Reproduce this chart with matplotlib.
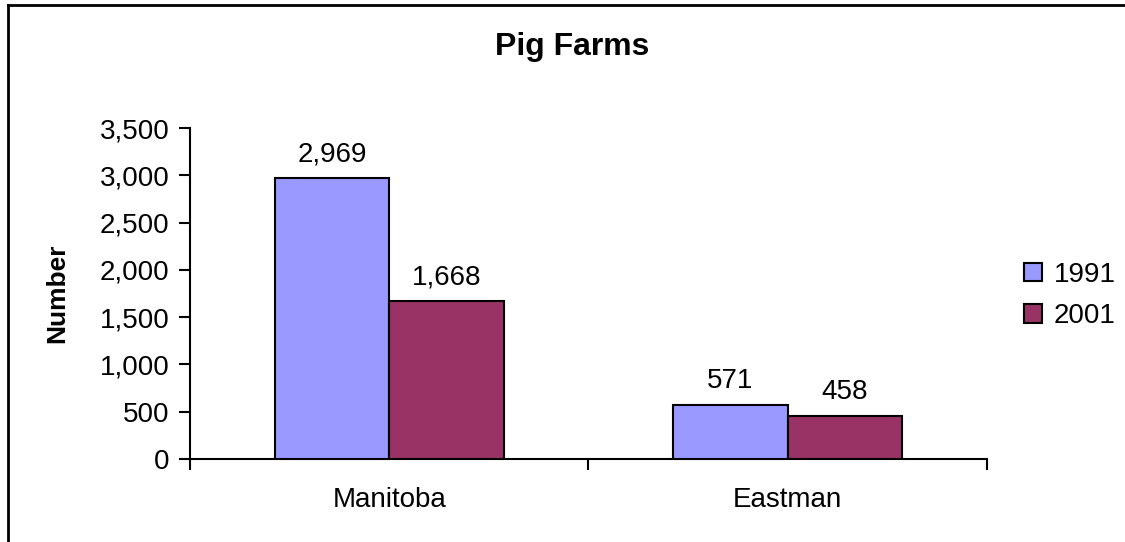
import matplotlib
matplotlib.use("Agg")
import matplotlib.pyplot as plt
from matplotlib.lines import Line2D
from matplotlib.ticker import FuncFormatter
import numpy as np

categories = ["Manitoba", "Eastman"]
series_names = ["1991", "2001"]
values_1991 = [2969, 571]
values_2001 = [1668, 458]
colors = ["#9999FF", "#993366"]

plt.rcParams['font.family'] = ['Liberation Sans', 'DejaVu Sans']

fig = plt.figure(figsize=(11.25, 5.42), dpi=100)
ax = fig.add_axes([0.1689, 0.1531, 0.8773 - 0.1689, 0.7638 - 0.1531])

FS = 20
x = np.arange(len(categories))
w = 0.2873
for i, (vals, name, c) in enumerate(zip([values_1991, values_2001], series_names, colors)):
    off = (i - 0.5) * w
    bars = ax.bar(x + off, vals, w, color=c, edgecolor='black', linewidth=1.5, label=name, zorder=3)
    for b, v in zip(bars, vals):
        ax.annotate(f"{v:,}", (b.get_x() + b.get_width() / 2, v), xytext=(0, 12),
                    textcoords='offset points', ha='center', va='baseline', fontsize=FS)

ax.set_xlim(-0.5, 1.5)
ax.set_ylim(0, 3500)
ax.set_yticks(np.arange(0, 3501, 500))
ax.yaxis.set_major_formatter(FuncFormatter(lambda v, p: f"{int(v):,}"))
ax.set_xticks([-0.5, 0.5, 1.5])
ax.set_xticklabels([])
ax.set_xticks(x, minor=True)
ax.set_xticklabels(categories, minor=True)
ax.tick_params(axis='x', which='minor', length=0, pad=20, labelsize=FS)
ax.tick_params(axis='x', which='major', length=8, width=1.5, direction='out')
ax.tick_params(axis='y', length=8, width=1.5, direction='out', pad=7, labelsize=FS)
for s in ['top', 'right']:
    ax.spines[s].set_visible(False)
for s in ['left', 'bottom']:
    ax.spines[s].set_linewidth(1.5)

ax.set_ylabel("Number", fontsize=19, fontweight='bold', labelpad=22)
fig.text(0.509, 1 - 55 / 542, "Pig Farms", ha='center', va='baseline', fontsize=23, fontweight='bold')

leg = ax.legend(loc='center left', bbox_to_anchor=(1024 / 1125, 1 - 295.5 / 542), bbox_transform=fig.transFigure,
                frameon=False, fontsize=FS, handlelength=0.65, handleheight=0.65,
                handletextpad=0.43, labelspacing=0.55, borderaxespad=0, borderpad=0)
for h in leg.legend_handles:
    h.set_linewidth(1.5)

# figure border (top and left)
fig.add_artist(Line2D([8 / 1125, 8 / 1125], [0, 1 - 5 / 542], transform=fig.transFigure, color='black', lw=2))
fig.add_artist(Line2D([8 / 1125, 1], [1 - 5 / 542, 1 - 5 / 542], transform=fig.transFigure, color='black', lw=2))

fig.savefig("out.png", dpi=100)
